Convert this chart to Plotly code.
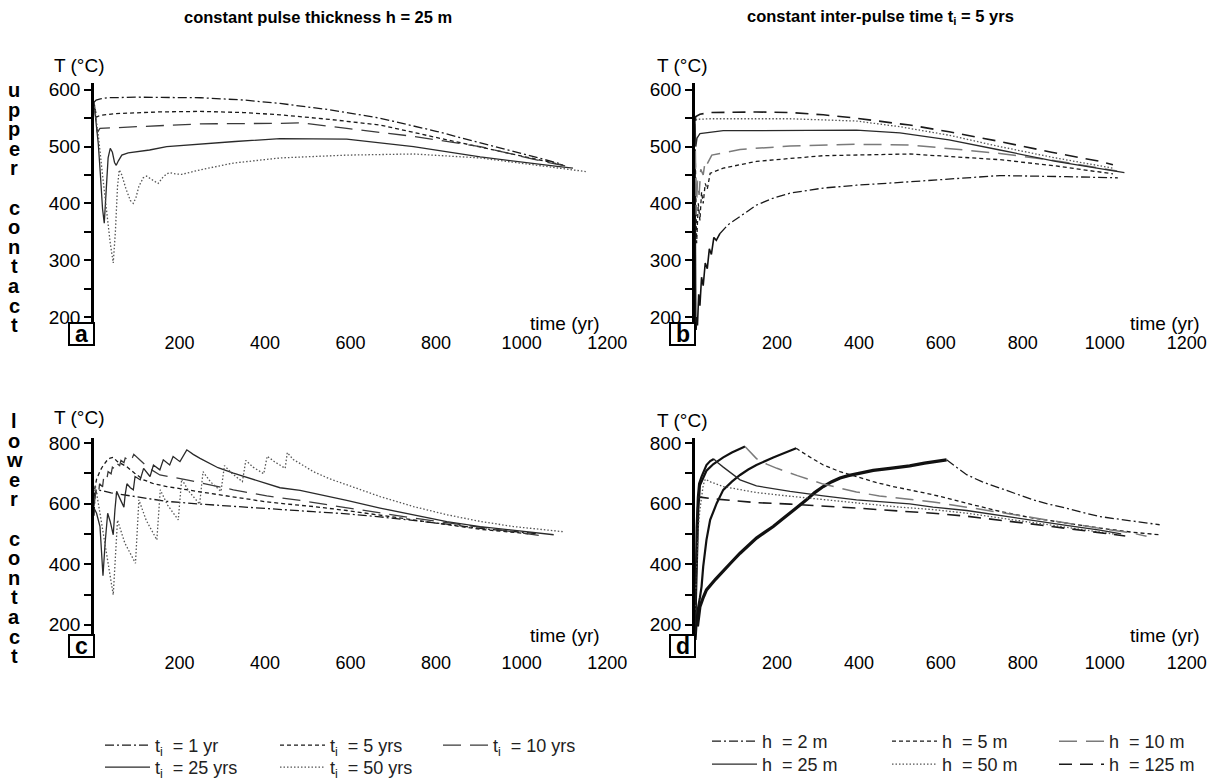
import plotly.graph_objects as go

FONT = "Liberation Sans, Arial, sans-serif"
W, H = 1210, 780

# ---------------- DATA ----------------
x_ticks = [200, 400, 600, 800, 1000, 1200]
y_ticks_upper = [200, 300, 400, 500, 600]
y_ticks_lower = [200, 400, 600, 800]

ti_labels = ["t<sub>i</sub>&nbsp; = 1 yr", "t<sub>i</sub>&nbsp; = 5 yrs", "t<sub>i</sub>&nbsp; = 10 yrs",
             "t<sub>i</sub>&nbsp; = 25 yrs", "t<sub>i</sub>&nbsp; = 50 yrs"]
h_labels = ["h&nbsp; = 2 m", "h&nbsp; = 5 m", "h&nbsp; = 10 m", "h&nbsp; = 25 m", "h&nbsp; = 50 m", "h&nbsp; = 125 m"]

# Panel a: upper contact, constant h = 25 m
a_t1_x = [0, 5, 15, 30, 100, 250, 350, 435, 550, 669, 800, 957, 1090]
a_t1_y = [578, 582, 584, 586, 587, 586, 582, 576, 565, 550, 527, 496, 470]
a_t5_x = [0, 3, 6, 14, 50, 150, 248, 350, 435, 550, 669, 825, 992, 1100]
a_t5_y = [578, 560, 552, 555, 558, 561, 562, 560, 556, 548, 538, 512, 485, 467]
a_t10_x = [0, 4, 8, 12, 14, 100, 248, 435, 482, 591, 747, 903, 1043, 1110]
a_t10_y = [578, 545, 525, 530, 532, 535, 540, 541, 542, 532, 518, 500, 475, 465]
a_t25_x = [0, 5, 10, 15, 20, 24, 28, 33, 38, 43, 48, 52, 57, 65, 80, 130, 170, 250, 330, 435, 591, 747, 903, 1083, 1120]
a_t25_y = [577, 540, 505, 450, 390, 365, 420, 480, 497, 490, 472, 467, 475, 485, 489, 494, 500, 505, 509, 514, 513, 500, 482, 465, 462]
a_t50_x = [0, 10, 20, 30, 38, 45, 50, 55, 59, 65, 75, 85, 92, 98, 105, 115, 123, 135, 150, 160, 170, 178, 190, 205,
           248, 326, 435, 591, 747, 903, 1106, 1150]
a_t50_y = [577, 520, 450, 380, 330, 295, 350, 430, 459, 450, 425, 405, 400, 410, 430, 445, 448, 442, 435, 445, 452, 454, 452, 451,
           459, 471, 480, 485, 487, 480, 460, 456]

# Panel b: upper contact, constant ti = 5 yrs
b_h2_rise_x = [0, 1, 2, 4, 6, 9, 12, 16, 20, 25, 30, 35, 40, 46, 52, 61]
b_h2_rise_y = [480, 200, 165, 200, 185, 240, 220, 270, 255, 295, 285, 320, 310, 340, 335, 347]
b_h2_x = [61, 80, 110, 150, 190, 232, 313, 394, 524, 620, 744, 906, 1032]
b_h2_y = [347, 362, 377, 397, 409, 418, 427, 432, 438, 443, 449, 447, 445]
b_h5_x = [0, 4, 8, 12, 16, 20, 25, 30, 37, 69, 150, 313, 524, 744, 880, 1020]
b_h5_y = [520, 330, 400, 370, 420, 400, 435, 425, 453, 462, 474, 484, 487, 477, 466, 452]
b_h10_x = [0, 3, 6, 10, 14, 20, 25, 30, 41, 110, 232, 394, 524, 744, 880, 988, 1030]
b_h10_y = [540, 380, 440, 415, 460, 450, 475, 470, 485, 495, 501, 504, 503, 488, 475, 462, 457]
b_h25_x = [0, 2, 5, 12, 69, 394, 500, 620, 744, 880, 1048]
b_h25_y = [545, 500, 515, 523, 528, 529, 524, 512, 494, 474, 454]
b_h50_x = [0, 4, 37, 232, 394, 500, 620, 744, 880, 1020]
b_h50_y = [540, 548, 549, 549, 545, 535, 520, 500, 480, 462]
b_h125_x = [0, 2, 12, 37, 150, 232, 313, 394, 500, 524, 620, 744, 870, 988, 1020]
b_h125_y = [545, 553, 557, 560, 561, 560, 556, 550, 540, 538, 526, 509, 490, 474, 468]

# Panel c: lower contact, constant h = 25 m
c_t1_x = [0, 2, 5, 10, 40, 100, 170, 250, 326, 435, 482, 513, 591, 669, 747, 825, 903, 981, 1040]
c_t1_y = [560, 620, 645, 645, 635, 622, 607, 598, 590, 580, 576, 573, 566, 556, 545, 532, 518, 507, 500]
c_t5_x = [0, 2, 6, 10, 15, 20, 26, 32, 38, 45, 55, 76, 95, 116, 140, 170, 250, 326, 400, 482, 513, 591, 669, 747, 825, 903, 981, 1030]
c_t5_y = [600, 650, 680, 695, 710, 722, 735, 745, 750, 752, 738, 722, 700, 678, 665, 656, 638, 623, 606, 594, 590, 577, 562, 545, 530, 515, 505, 498]
c_t10_x = [0, 4, 10, 13, 20, 23, 30, 33, 40, 43, 50, 53, 60, 63, 70, 73, 80, 83, 90, 93, 110, 130, 154, 217, 326, 404, 482,
           513, 591, 669, 747, 825, 903, 981, 1040]
c_t10_y = [590, 640, 625, 665, 655, 690, 680, 705, 698, 720, 712, 732, 725, 742, 735, 750, 744, 757, 752, 762, 740, 715, 694, 678, 645, 625, 610,
           603, 585, 568, 552, 537, 522, 506, 495]
c_t25_x = [0, 6, 14, 18, 21, 26, 32, 38, 45, 49, 53, 62, 70, 73, 77, 85, 92, 96, 108, 116, 131, 139, 154, 162, 177, 185, 201, 217,
           232, 248, 290, 326, 404, 435, 482, 513, 591, 669, 747, 825, 903, 981, 1075]
c_t25_y = [585, 568, 524, 430, 362, 470, 568, 540, 497, 580, 640, 612, 588, 630, 665, 652, 645, 689, 678, 716, 689, 727, 711, 744, 727, 755, 738, 777,
           762, 749, 718, 700, 667, 652, 643, 634, 610, 585, 563, 540, 524, 511, 497]
c_t50_x = [0, 3, 14, 30, 45, 55, 72, 97, 105, 122, 147, 155, 172, 197, 205, 222, 247, 255, 272, 297, 305, 322, 347, 355, 372, 397,
           405, 422, 447, 452, 466, 490, 513, 550, 591, 669, 747, 825, 903, 981, 1098]
c_t50_y = [640, 660, 568, 436, 299, 545, 470, 403, 612, 545, 480, 645, 595, 546, 680, 640, 598, 705, 672, 640, 725, 700, 672, 742, 720, 698,
           756, 738, 716, 768, 745, 725, 705, 682, 661, 623, 590, 563, 541, 524, 507]

# Panel d: lower contact, constant ti = 5 yrs
d_h2_rise_x = [0, 3, 6, 12, 20, 28, 50, 69, 90, 110, 130, 150, 170, 191, 212, 232, 252, 272, 292, 313, 334, 354, 374, 394, 435, 476, 500, 524, 560, 590, 614]
d_h2_rise_y = [150, 215, 195, 260, 290, 315, 350, 376, 408, 436, 462, 486, 505, 524, 547, 568, 590, 612, 636, 656, 672, 684, 692, 698, 709, 716, 720, 724, 733, 739, 744]
d_h2_x = [614, 640, 663, 700, 744, 785, 825, 866, 906, 947, 988, 1030, 1069, 1100, 1134]
d_h2_y = [744, 718, 695, 672, 651, 630, 612, 597, 585, 570, 557, 549, 541, 535, 530]
d_h5_rise_x = [0, 4, 8, 12, 16, 20, 28, 37, 53, 69, 90, 110, 130, 150, 170, 191, 212, 232, 247]
d_h5_rise_y = [180, 230, 260, 290, 326, 392, 480, 546, 601, 645, 672, 694, 712, 727, 740, 752, 763, 773, 782]
d_h5_x = [247, 272, 313, 354, 394, 435, 476, 524, 581, 663, 744, 825, 906, 988, 1069, 1134]
d_h5_y = [782, 760, 727, 705, 689, 672, 658, 645, 629, 601, 574, 552, 535, 519, 505, 497]
d_h10_rise_x = [0, 2, 4, 6, 8, 12, 28, 45, 69, 90, 110, 122]
d_h10_rise_y = [170, 280, 400, 500, 580, 660, 708, 730, 752, 768, 780, 788]
d_h10_x = [122, 134, 150, 175, 200, 250, 313, 394, 450, 500, 581, 663, 744, 825, 906, 988, 1069, 1102]
d_h10_y = [788, 770, 748, 730, 716, 692, 664, 638, 625, 617, 605, 588, 570, 552, 535, 518, 502, 492]
d_h25_rise_x = [0, 2, 4, 7, 10, 16, 28, 37, 46]
d_h25_rise_y = [160, 350, 520, 620, 665, 689, 727, 740, 747]
d_h25_x = [46, 55, 69, 90, 110, 150, 190, 232, 313, 394, 524, 581, 663, 744, 825, 906, 988, 1040]
d_h25_y = [747, 735, 720, 697, 678, 658, 648, 640, 625, 612, 599, 588, 577, 560, 545, 528, 512, 500]
d_h50_x = [0, 2, 4, 8, 12, 16, 20, 25, 40, 69, 110, 150, 232, 313, 394, 500, 581, 663, 744, 825, 906, 988, 1030]
d_h50_y = [250, 330, 420, 520, 580, 630, 660, 680, 670, 656, 645, 636, 624, 614, 602, 588, 580, 568, 553, 538, 522, 507, 498]
d_h125_x = [0, 2, 4, 6, 8, 12, 40, 69, 150, 232, 313, 394, 500, 581, 663, 744, 825, 906, 988, 1050]
d_h125_y = [200, 350, 480, 580, 623, 621, 616, 612, 603, 598, 592, 585, 575, 568, 558, 546, 532, 518, 504, 493]

# ---------------- STYLES ----------------
DK = "#1a1a1a"
S_DASHDOT = dict(color=DK, width=1.3, dash="9px,3px,2px,3px")
S_SHORT = dict(color=DK, width=1.3, dash="4px,3px")
S_LONG = dict(color="#3a3a3a", width=1.3, dash="18px,9px")
S_LONG_GREY = dict(color="#7a7a7a", width=1.5, dash="18px,9px")
S_SOLID = dict(color="#2a2a2a", width=1.3)
S_DOT = dict(color="#555555", width=1.3, dash="1.5px,2px")
S_LONG_DARK = dict(color=DK, width=1.6, dash="13px,8px")
S_RISE = dict(color="#111111", width=2.2)

fig = go.Figure()

def add(x, y, ax, style, name=None, legend=None):
    xa, ya = ax
    kw = dict(x=x, y=y, mode="lines", line=style, xaxis=xa, yaxis=ya, hoverinfo="skip")
    if name is not None:
        kw.update(name=name, showlegend=True, legend=legend)
    else:
        kw.update(showlegend=False)
    fig.add_trace(go.Scatter(**kw))

A, B, C, D = ("x", "y"), ("x2", "y2"), ("x3", "y3"), ("x4", "y4")

# panel a (legend owners)
add(a_t1_x, a_t1_y, A, S_DASHDOT, ti_labels[0], "legend")
add(a_t5_x, a_t5_y, A, S_SHORT, ti_labels[1], "legend2")
add(a_t10_x, a_t10_y, A, S_LONG, ti_labels[2], "legend3")
add(a_t25_x, a_t25_y, A, S_SOLID, ti_labels[3], "legend4")
add(a_t50_x, a_t50_y, A, S_DOT, ti_labels[4], "legend5")

# panel c
add(c_t1_x, c_t1_y, C, S_DASHDOT)
add(c_t5_x, c_t5_y, C, S_SHORT)
add(c_t10_x, c_t10_y, C, S_LONG)
add(c_t25_x, c_t25_y, C, S_SOLID)
add(c_t50_x, c_t50_y, C, S_DOT)

# panel b
add(b_h2_rise_x, b_h2_rise_y, B, dict(color="#111111", width=1.6))
add(b_h2_x, b_h2_y, B, S_DASHDOT, h_labels[0], "legend6")
add(b_h5_x, b_h5_y, B, S_SHORT, h_labels[1], "legend7")
add(b_h10_x, b_h10_y, B, S_LONG_GREY, h_labels[2], "legend8")
add(b_h25_x, b_h25_y, B, S_SOLID, h_labels[3], "legend9")
add(b_h50_x, b_h50_y, B, S_DOT, h_labels[4], "legend10")
add(b_h125_x, b_h125_y, B, S_LONG_DARK, h_labels[5], "legend11")

# panel d
add(d_h2_rise_x, d_h2_rise_y, D, dict(color="#111111", width=3.2))
add(d_h2_x, d_h2_y, D, S_DASHDOT)
add(d_h5_rise_x, d_h5_rise_y, D, S_RISE)
add(d_h5_x, d_h5_y, D, S_SHORT)
add(d_h10_rise_x, d_h10_rise_y, D, S_RISE)
add(d_h10_x, d_h10_y, D, S_LONG_GREY)
add(d_h25_rise_x, d_h25_rise_y, D, S_RISE)
add(d_h25_x, d_h25_y, D, S_SOLID)
add(d_h50_x, d_h50_y, D, S_DOT)
add(d_h125_x, d_h125_y, D, S_LONG_DARK)

# ---------------- AXES ----------------
def px(v):
    return v / W

def py(v):
    return 1 - v / H

XA = [px(94), px(620)]
XB = [px(695), px(1199)]
YU = [py(330), py(83)]
YL = [py(650), py(438)]
xtickfont = dict(family=FONT, size=18, color="black")
ytickfont = dict(family=FONT, size=19, color="black")

def xaxis(domain, anchor):
    return dict(domain=domain, anchor=anchor, range=[0, 1230], tickvals=x_ticks,
                showline=False, ticks="", showgrid=False, zeroline=False, tickfont=xtickfont)

def yaxis(domain, anchor, rng, tv, minor):
    return dict(domain=domain, anchor=anchor, range=rng, tickvals=tv,
                showline=True, linecolor="black", linewidth=2.5, ticks="outside", ticklen=7, tickwidth=2,
                tickcolor="black", showgrid=False, zeroline=False, tickfont=ytickfont,
                minor=dict(ticks="outside", ticklen=7, tickwidth=2, tickcolor="black", dtick=minor, tick0=0, showgrid=False))

layout = dict(
    width=W, height=H, autosize=False, margin=dict(l=0, r=0, t=0, b=0, autoexpand=False),
    paper_bgcolor="white", plot_bgcolor="white", font=dict(family=FONT, color="black"),
    xaxis=xaxis(XA, "y"), yaxis=yaxis(YU, "x", [177, 612], y_ticks_upper, 50),
    xaxis2=xaxis(XB, "y2"), yaxis2=yaxis(YU, "x2", [177, 612], y_ticks_upper, 50),
    xaxis3=xaxis(XA, "y3"), yaxis3=yaxis(YL, "x3", [117, 816], y_ticks_lower, 100),
    xaxis4=xaxis(XB, "y4"), yaxis4=yaxis(YL, "x4", [117, 816], y_ticks_lower, 100),
)

# legends: one per entry, positioned like the reference key (y = top of legend box)
leg_pos = [(100, 727), (275, 727), (438, 727), (100, 749), (275, 749),
           (707, 723), (887, 723), (1054, 723), (707, 746), (887, 746), (1054, 746)]
for i, (lx, ly) in enumerate(leg_pos):
    key = "legend" if i == 0 else f"legend{i+1}"
    layout[key] = dict(x=px(lx), y=py(ly), xanchor="left", yanchor="top", orientation="v",
                       bgcolor="rgba(0,0,0,0)", borderwidth=0, itemwidth=45,
                       font=dict(family=FONT, size=18, color="#222222"))
fig.update_layout(**layout)

# ---------------- TEXT ----------------
ann = []
def text(x, y, s, size=17, bold=False, xanchor="center", fam=FONT):
    ann.append(dict(x=px(x), y=py(y), xref="paper", yref="paper", text=f"<b>{s}</b>" if bold else s,
                    showarrow=False, xanchor=xanchor, yanchor="middle",
                    font=dict(family=fam, size=size, color="black")))

text(318, 17, "constant pulse thickness h = 25 m", 16.5, True)
text(880, 17, "constant inter-pulse time t<sub>i</sub> = 5 yrs", 16.5, True)

for (x, y) in [(79, 65), (682, 65), (79, 417), (682, 420)]:
    text(x, y, "T (°C)", 19)
for (x, y) in [(602, 323), (1202, 323), (602, 635), (1202, 635)]:
    text(x, y, "time (yr)", 19, xanchor="right")

for word, y0 in [("upper contact", 90), ("lower contact", 421)]:
    for k, ch in enumerate(word):
        if ch != " ":
            text(14, y0 + 19.6 * k, ch, 20, True)

shapes = []
for letter, x0, y0 in [("a", 69, 323), ("b", 670, 323), ("c", 69, 635), ("d", 670, 635)]:
    shapes.append(dict(type="rect", xref="paper", yref="paper", x0=px(x0), x1=px(x0 + 25),
                       y0=py(y0 + 22), y1=py(y0), line=dict(color="black", width=2), fillcolor="white"))
    text(x0 + 12.5, y0 + 11, letter, 23, True)

fig.update_layout(annotations=ann, shapes=shapes)
fig.write_html("out.html")
